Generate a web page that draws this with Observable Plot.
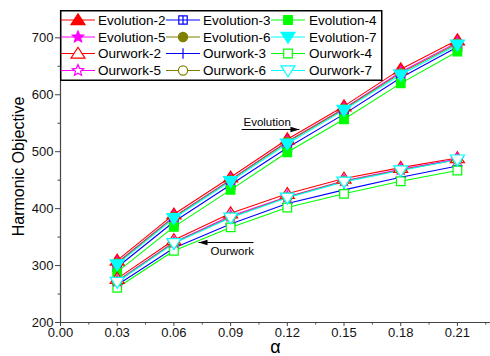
<!DOCTYPE html>
<html><head><meta charset="utf-8">
<script src="https://cdn.jsdelivr.net/npm/d3@7"></script>
<script src="https://cdn.jsdelivr.net/npm/@observablehq/plot@0.6"></script>
<style>body{margin:0;background:#fff}</style>
</head><body><div id="chart"></div>
<script>
const alphas = [0.03, 0.06, 0.09, 0.12, 0.15, 0.18, 0.21];
const evolution2 = [309, 390, 455, 522, 580, 645, 696];
const evolution3 = [297, 377, 442, 507, 566, 630, 684];
const evolution4 = [289, 368, 433, 499, 557, 620, 676];
const evolution5 = [305, 386, 451, 518, 576, 640, 692];
const evolution6 = [304, 385, 450, 517, 575, 638, 690];
const evolution7 = [302, 383, 448, 514, 573, 635, 688];
const ourwork2 = [277, 345, 392, 426, 453, 472, 489];
const ourwork3 = [266, 331, 373, 409, 433, 455, 475];
const ourwork4 = [261, 326, 367, 402, 426, 448, 467];
const ourwork5 = [273, 341, 387, 421, 449, 469, 487];
const ourwork6 = [272, 340, 385, 420, 448, 468, 486];
const ourwork7 = [271, 339, 384, 419, 447, 467, 486];
const seriesNames = ["Evolution-2","Evolution-3","Evolution-4","Evolution-5","Evolution-6","Evolution-7",
                     "Ourwork-2","Ourwork-3","Ourwork-4","Ourwork-5","Ourwork-6","Ourwork-7"];
const seriesValues = [evolution2, evolution3, evolution4, evolution5, evolution6, evolution7,
                      ourwork2, ourwork3, ourwork4, ourwork5, ourwork6, ourwork7];
const xTicks = [0, 0.03, 0.06, 0.09, 0.12, 0.15, 0.18, 0.21];
const xMinorTicks = [0.015, 0.045, 0.075, 0.105, 0.135, 0.165, 0.195, 0.225];
const yTicks = [200, 300, 400, 500, 600, 700];
const yMinorTicks = [250, 350, 450, 550, 650];
const xLabel = "α";
const yLabel = "Harmonic Objective";
const annotations = ["Evolution", "Ourwork"];

// custom symbols (r = sqrt(size/π) is half-width in px)
const rad = size => Math.sqrt(size / Math.PI);
const triUp = {draw(c, size){ const r = rad(size); const h = r*1.2; c.moveTo(0, -h); c.lineTo(r*1.35, h*0.75); c.lineTo(-r*1.35, h*0.75); c.closePath(); }};
const triDown = {draw(c, size){ const r = rad(size); const h = r*1.2; c.moveTo(0, h); c.lineTo(r*1.35, -h*0.75); c.lineTo(-r*1.35, -h*0.75); c.closePath(); }};
const square = {draw(c, size){ const s = rad(size); c.moveTo(-s,-s); c.lineTo(s,-s); c.lineTo(s,s); c.lineTo(-s,s); c.closePath(); }};
const sqCross = {draw(c, size){ const s = rad(size); c.moveTo(-s,-s); c.lineTo(s,-s); c.lineTo(s,s); c.lineTo(-s,s); c.closePath(); c.moveTo(0,-s); c.lineTo(0,s); c.moveTo(-s,0); c.lineTo(s,0); }};
const plus = {draw(c, size){ const s = rad(size); c.moveTo(0,-s); c.lineTo(0,s); c.moveTo(-s,0); c.lineTo(s,0); }};
const circle = {draw(c, size){ const s = rad(size); c.moveTo(s,0); c.arc(0,0,s,0,2*Math.PI); }};
const star = {draw(c, size){ const R = rad(size); const ri = R*0.45; for (let i=0;i<10;i++){ const a = -Math.PI/2 + i*Math.PI/5; const rr = i%2 ? ri : R; const x = rr*Math.cos(a), y = rr*Math.sin(a); if(i===0) c.moveTo(x,y); else c.lineTo(x,y);} c.closePath(); }};
const headRight = {draw(c){ c.moveTo(0,0); c.lineTo(-9,-2.8); c.lineTo(-9,2.8); c.closePath(); }};
const headLeft = {draw(c){ c.moveTo(0,0); c.lineTo(9,-2.8); c.lineTo(9,2.8); c.closePath(); }};

const colors = ["#ff0000","#0000ff","#00ff00","#ff00ff","#808000","#00ffff"];
const styles = [
  {symbol: triUp, r: 5.2}, {symbol: sqCross, r: 4.2}, {symbol: square, r: 4.3},
  {symbol: star, r: 6}, {symbol: circle, r: 4.6}, {symbol: triDown, r: 5.2}
];
const hollowStyles = [
  {symbol: triUp, r: 5.2}, {symbol: plus, r: 5.2}, {symbol: square, r: 4.3},
  {symbol: star, r: 6}, {symbol: circle, r: 4.6}, {symbol: triDown, r: 5.2}
];

const rows = [];
seriesNames.forEach((name, si) => alphas.forEach((a, i) => rows.push({series: name, alpha: a, value: seriesValues[si][i]})));

function seriesStyle(si) {
  const k = si % 6, evo = si < 6;
  const st = evo ? styles[k] : hollowStyles[k];
  const col = colors[k];
  let fill, stroke = col, sw = 1.2;
  if (evo) { fill = k === 1 ? "#fff" : col; }
  else { fill = k === 1 ? "none" : "#fff"; }
  return {symbol: st.symbol, r: st.r, fill, stroke, strokeWidth: sw, color: col};
}

const lineMarks = [], dotMarks = [];
seriesNames.forEach((name, si) => {
  const st = seriesStyle(si);
  const d = rows.filter(r => r.series === name);
  lineMarks.push(Plot.line(d, {x: "alpha", y: "value", stroke: st.color, strokeWidth: 1.1}));
  dotMarks.push(Plot.dot(d, {x: "alpha", y: "value", symbol: () => st.symbol, r: st.r, fill: st.fill, stroke: st.stroke, strokeWidth: st.strokeWidth}));
});

const axisColor = "#444";
const chart = Plot.plot({
  width: 490, height: 356,
  marginLeft: 60, marginRight: 0, marginTop: 10, marginBottom: 34,
  x: {domain: [0, 0.2275]},
  y: {domain: [200, 748]},
  symbol: {type: "identity"},
  style: {fontFamily: "'Liberation Sans', Arial, sans-serif", fontSize: "13px", background: "#fff", color: "#000", overflow: "visible"},
  marks: [
    Plot.axisX(xTicks, {tickFormat: d3.format(".2f"), tickSize: 4, tickPadding: 1, stroke: axisColor, fill: "#111", label: null, fontSize: 13}),
    Plot.axisX(xMinorTicks, {tickFormat: () => "", tickSize: 2.5, stroke: axisColor, label: null}),
    Plot.axisY(yTicks, {tickSize: 5, tickPadding: 2, stroke: axisColor, fill: "#111", label: null, fontSize: 13}),
    Plot.axisY(yMinorTicks, {tickFormat: () => "", tickSize: 2.5, stroke: axisColor, label: null}),
    Plot.ruleY([200], {stroke: axisColor, strokeWidth: 1.2}),
    Plot.ruleX([0], {stroke: axisColor, strokeWidth: 1.2}),
    ...lineMarks,
    ...dotMarks,
    // annotations
    Plot.text([annotations[0]], {x: 0.0968, y: 551, text: d => d, textAnchor: "start", fontSize: 11.5, fill: "#000"}),
    Plot.link([0], {x1: 0.0958, y1: 539, x2: 0.1264, y2: 539, stroke: "#000", strokeWidth: 1}),
    Plot.dot([0], {x: 0.1264, y: 539, symbol: () => headRight, fill: "#000", stroke: "none", r: 3}),
    Plot.text([annotations[1]], {x: 0.0794, y: 324.5, text: d => d, textAnchor: "start", fontSize: 11.5, fill: "#000"}),
    Plot.link([0], {x1: 0.1021, y1: 340.5, x2: 0.0730, y2: 340.5, stroke: "#000", strokeWidth: 1}),
    Plot.dot([0], {x: 0.0730, y: 340.5, symbol: () => headLeft, fill: "#000", stroke: "none", r: 3}),
    // axis titles
    Plot.text([yLabel], {frameAnchor: "left", textAnchor: "middle", lineAnchor: "middle", dx: -42, rotate: -90, fontSize: 16, fill: "#000", text: d => d}),
    Plot.text([xLabel], {frameAnchor: "bottom", lineAnchor: "bottom", dy: 30, fontSize: 18, fill: "#000", text: d => d})
  ]
});
document.getElementById("chart").appendChild(chart);

// legend
const svg = d3.select(chart);
const lg = svg.append("g").attr("font-family", "'Liberation Sans', Arial, sans-serif").attr("font-size", 13.5).attr("text-anchor", "start");
lg.append("rect").attr("x", 60.75).attr("y", 10.75).attr("width", 321).attr("height", 69.5)
  .attr("fill", "#fff").attr("stroke", "#000").attr("stroke-width", 1.5);
const rowY = [20, 37, 53.5, 70.5];
const colX = [61, 166, 271];
const colTextX = [98, 203, 309];
seriesNames.forEach((name, si) => {
  const row = Math.floor(si / 3), col = si % 3;
  const st = seriesStyle(si);
  const y = rowY[row], x0 = colX[col];
  lg.append("line").attr("x1", x0).attr("x2", x0 + 34).attr("y1", y).attr("y2", y).attr("stroke", st.color).attr("stroke-width", 1.1);
  lg.append("path").attr("transform", `translate(${x0 + 17},${y})`)
    .attr("d", d3.symbol(st.symbol, Math.PI * st.r * st.r)())
    .attr("fill", st.fill).attr("stroke", st.stroke).attr("stroke-width", st.strokeWidth);
  lg.append("text").attr("x", colTextX[col]).attr("y", y).attr("dy", "0.35em").attr("text-anchor", "start").attr("fill", "#000").text(name);
});
</script>
</body></html>
